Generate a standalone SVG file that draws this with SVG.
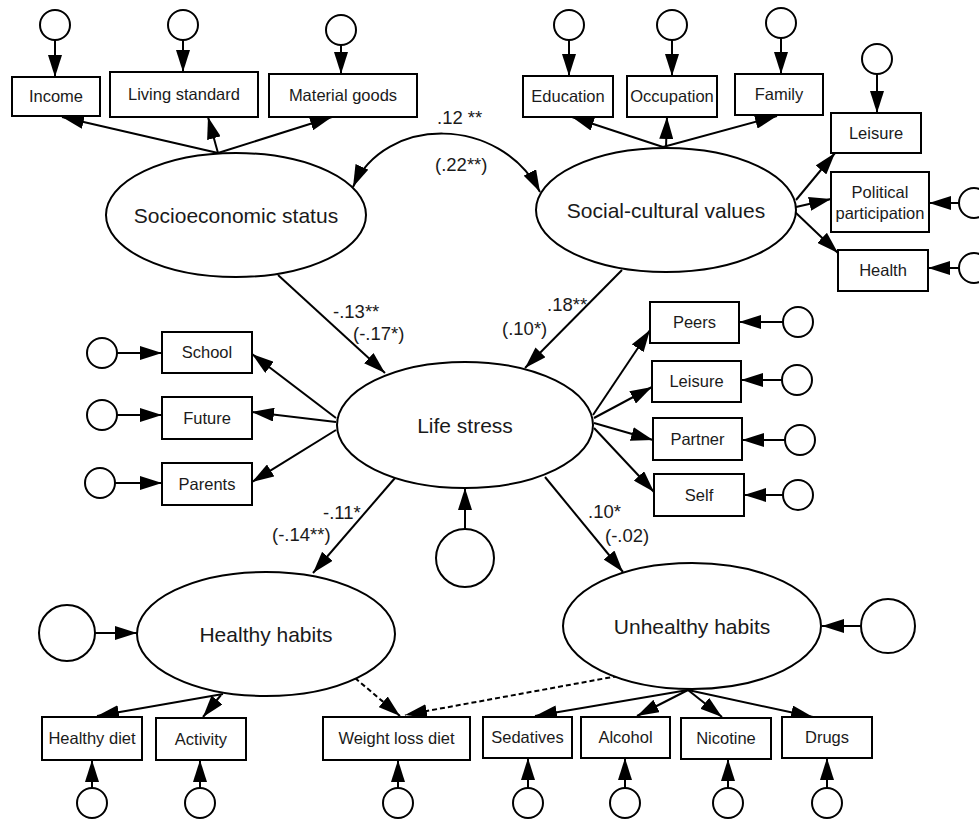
<svg xmlns="http://www.w3.org/2000/svg" width="979" height="820" viewBox="0 0 979 820">
<style>
.box{fill:#fff;stroke:#000;stroke-width:2}
.lat{fill:#fff;stroke:#000;stroke-width:2}
.err{fill:#fff;stroke:#000;stroke-width:2}
.bl{font-family:"Liberation Sans",Arial,sans-serif;font-size:16.5px;fill:#1a1a1a;text-anchor:middle}
.ll{font-family:"Liberation Sans",Arial,sans-serif;font-size:21px;fill:#1a1a1a;text-anchor:middle}
.cl{font-family:"Liberation Sans",Arial,sans-serif;font-size:18.5px;fill:#1a1a1a}
.c{fill:none;stroke:#000;stroke-width:2;marker-end:url(#ah)}
.d{fill:none;stroke:#000;stroke-width:2;stroke-dasharray:5 3;marker-end:url(#ah)}
</style>
<defs>
<marker id="ah" markerUnits="userSpaceOnUse" markerWidth="22" markerHeight="14" refX="22" refY="7" orient="auto-start-reverse" viewBox="0 0 22 14">
<path d="M0,0 L22,7 L0,14 z" fill="#000"/>
</marker>
</defs>
<rect width="979" height="820" fill="#fff"/>

<g id="connectors">
<line class="c" x1="55" y1="40" x2="55" y2="77"/>
<line class="c" x1="183" y1="40" x2="183" y2="72"/>
<line class="c" x1="341" y1="45" x2="341" y2="74"/>
<line class="c" x1="218" y1="153" x2="62" y2="117"/>
<line class="c" x1="218" y1="153" x2="208" y2="117"/>
<line class="c" x1="218" y1="153" x2="332" y2="117"/>
<line class="c" x1="569" y1="40" x2="569" y2="76"/>
<line class="c" x1="672" y1="40" x2="672" y2="76"/>
<line class="c" x1="781" y1="38" x2="781" y2="74"/>
<line class="c" x1="877" y1="74" x2="877" y2="113"/>
<line class="c" x1="959" y1="203" x2="929" y2="203"/>
<line class="c" x1="959" y1="268" x2="928" y2="268"/>
<line class="c" x1="663" y1="147" x2="572" y2="117"/>
<line class="c" x1="666" y1="147" x2="667" y2="117"/>
<line class="c" x1="663" y1="147" x2="777" y2="116"/>
<line class="c" x1="796" y1="200" x2="835" y2="153"/>
<line class="c" x1="796" y1="207" x2="831" y2="199"/>
<line class="c" x1="795" y1="212" x2="838" y2="253"/>
<path d="M353,187 C385,115 500,115 540,192" fill="none" stroke="#000" stroke-width="2" marker-start="url(#ah)" marker-end="url(#ah)"/>
<line class="c" x1="278" y1="275" x2="385" y2="373"/>
<line class="c" x1="622" y1="270" x2="525" y2="368"/>
<line class="c" x1="395" y1="478" x2="313" y2="573"/>
<line class="c" x1="545" y1="477" x2="623" y2="572"/>
<line class="c" x1="465" y1="529" x2="465" y2="488"/>
<line class="c" x1="117" y1="353" x2="162" y2="353"/>
<line class="c" x1="117" y1="415" x2="162" y2="415"/>
<line class="c" x1="115" y1="483" x2="162" y2="483"/>
<line class="c" x1="336" y1="418" x2="252" y2="354"/>
<line class="c" x1="336" y1="422" x2="252" y2="412"/>
<line class="c" x1="336" y1="430" x2="252" y2="482"/>
<line class="c" x1="783" y1="322" x2="739" y2="322"/>
<line class="c" x1="782" y1="380" x2="741" y2="380"/>
<line class="c" x1="785" y1="440" x2="742" y2="440"/>
<line class="c" x1="783" y1="495" x2="744" y2="495"/>
<line class="c" x1="593" y1="415" x2="650" y2="330"/>
<line class="c" x1="594" y1="418" x2="652" y2="387"/>
<line class="c" x1="594" y1="423" x2="653" y2="440"/>
<line class="c" x1="594" y1="428" x2="654" y2="492"/>
<line class="c" x1="95" y1="633" x2="137" y2="633"/>
<line class="c" x1="223" y1="694" x2="97" y2="716"/>
<line class="c" x1="221" y1="695" x2="203" y2="717"/>
<line class="c" x1="92" y1="788" x2="92" y2="760"/>
<line class="c" x1="200" y1="788" x2="200" y2="760"/>
<line class="c" x1="398" y1="788" x2="398" y2="760"/>
<line class="d" x1="355" y1="678" x2="400" y2="716"/>
<line class="d" x1="618" y1="676" x2="405" y2="715"/>
<line class="c" x1="861" y1="626" x2="822" y2="626"/>
<line class="c" x1="688" y1="690" x2="535" y2="716"/>
<line class="c" x1="688" y1="690" x2="637" y2="716"/>
<line class="c" x1="688" y1="690" x2="722" y2="717"/>
<line class="c" x1="688" y1="690" x2="813" y2="717"/>
<line class="c" x1="528" y1="788" x2="528" y2="758"/>
<line class="c" x1="625" y1="788" x2="625" y2="758"/>
<line class="c" x1="728" y1="788" x2="728" y2="759"/>
<line class="c" x1="827" y1="788" x2="827" y2="758"/>
</g>

<g id="labels">
<text class="cl" x="437" y="124">.12 **</text>
<text class="cl" x="435" y="171">(.22**)</text>
<text class="cl" x="333" y="318">-.13**</text>
<text class="cl" x="353" y="340">(-.17*)</text>
<text class="cl" x="547" y="311">.18**</text>
<text class="cl" x="502" y="335">(.10*)</text>
<text class="cl" x="323" y="519">-.11*</text>
<text class="cl" x="272" y="541">(-.14**)</text>
<text class="cl" x="588" y="518">.10*</text>
<text class="cl" x="605" y="542">(-.02)</text>
</g>

<g id="ses"><ellipse class="lat" cx="236" cy="215" rx="130" ry="62"/><text class="ll" x="236" y="223">Socioeconomic status</text></g>
<g id="income"><rect class="box" x="12" y="77" width="88" height="39"/><text class="bl" x="56" y="102">Income</text></g>
<g id="living"><rect class="box" x="110" y="72" width="148" height="45"/><text class="bl" x="184" y="100">Living standard</text></g>
<g id="material"><rect class="box" x="269" y="74" width="148" height="43"/><text class="bl" x="343" y="101">Material goods</text></g>
<g id="e_income"><circle class="err" cx="55" cy="25" r="15"/></g>
<g id="e_living"><circle class="err" cx="183" cy="25" r="15"/></g>
<g id="e_material"><circle class="err" cx="341" cy="30" r="15"/></g>

<g id="scv"><ellipse class="lat" cx="666" cy="210" rx="130" ry="62"/><text class="ll" x="666" y="218">Social-cultural values</text></g>
<g id="education"><rect class="box" x="523" y="76" width="90" height="41"/><text class="bl" x="568" y="102">Education</text></g>
<g id="occupation"><rect class="box" x="627" y="76" width="90" height="41"/><text class="bl" x="672" y="102">Occupation</text></g>
<g id="family"><rect class="box" x="735" y="74" width="88" height="41"/><text class="bl" x="779" y="100">Family</text></g>
<g id="leisure_scv"><rect class="box" x="831" y="113" width="90" height="40"/><text class="bl" x="876" y="139">Leisure</text></g>
<g id="political"><rect class="box" x="831" y="172" width="98" height="60"/><text class="bl" x="880" y="198">Political</text><text class="bl" x="880" y="219">participation</text></g>
<g id="health"><rect class="box" x="838" y="250" width="90" height="41"/><text class="bl" x="883" y="276">Health</text></g>
<g id="e_education"><circle class="err" cx="569" cy="25" r="15"/></g>
<g id="e_occupation"><circle class="err" cx="672" cy="25" r="15"/></g>
<g id="e_family"><circle class="err" cx="781" cy="23" r="15"/></g>
<g id="e_leisure_scv"><circle class="err" cx="877" cy="59" r="15"/></g>
<g id="e_political"><circle class="err" cx="974" cy="203" r="15"/></g>
<g id="e_health"><circle class="err" cx="974" cy="268" r="15"/></g>

<g id="lifestress"><ellipse class="lat" cx="465" cy="425" rx="128" ry="63"/><text class="ll" x="465" y="433">Life stress</text></g>
<g id="d_lifestress"><circle class="err" cx="465" cy="558" r="29"/></g>
<g id="school"><rect class="box" x="162" y="332" width="90" height="41"/><text class="bl" x="207" y="358">School</text></g>
<g id="future"><rect class="box" x="162" y="397" width="90" height="42"/><text class="bl" x="207" y="424">Future</text></g>
<g id="parents"><rect class="box" x="162" y="463" width="90" height="42"/><text class="bl" x="207" y="490">Parents</text></g>
<g id="e_school"><circle class="err" cx="102" cy="353" r="15"/></g>
<g id="e_future"><circle class="err" cx="102" cy="415" r="15"/></g>
<g id="e_parents"><circle class="err" cx="100" cy="483" r="15"/></g>
<g id="peers"><rect class="box" x="650" y="302" width="89" height="41"/><text class="bl" x="694.5" y="328">Peers</text></g>
<g id="leisure_ls"><rect class="box" x="652" y="361" width="89" height="41"/><text class="bl" x="696.5" y="387">Leisure</text></g>
<g id="partner"><rect class="box" x="653" y="418" width="89" height="42"/><text class="bl" x="697.5" y="445">Partner</text></g>
<g id="self"><rect class="box" x="654" y="474" width="90" height="42"/><text class="bl" x="699" y="501">Self</text></g>
<g id="e_peers"><circle class="err" cx="798" cy="322" r="15"/></g>
<g id="e_leisure_ls"><circle class="err" cx="797" cy="380" r="15"/></g>
<g id="e_partner"><circle class="err" cx="800" cy="440" r="15"/></g>
<g id="e_self"><circle class="err" cx="798" cy="495" r="15"/></g>

<g id="healthy"><ellipse class="lat" cx="266" cy="634" rx="129" ry="62"/><text class="ll" x="266" y="642">Healthy habits</text></g>
<g id="d_healthy"><circle class="err" cx="67" cy="633" r="28"/></g>
<g id="healthydiet"><rect class="box" x="42" y="717" width="100" height="43"/><text class="bl" x="92" y="744">Healthy diet</text></g>
<g id="activity"><rect class="box" x="156" y="718" width="90" height="42"/><text class="bl" x="201" y="745">Activity</text></g>
<g id="weightloss"><rect class="box" x="323" y="717" width="147" height="43"/><text class="bl" x="396.5" y="744">Weight loss diet</text></g>
<g id="e_healthydiet"><circle class="err" cx="92" cy="803" r="15"/></g>
<g id="e_activity"><circle class="err" cx="200" cy="803" r="15"/></g>
<g id="e_weightloss"><circle class="err" cx="398" cy="803" r="15"/></g>

<g id="unhealthy"><ellipse class="lat" cx="692" cy="626" rx="129" ry="63"/><text class="ll" x="692" y="634">Unhealthy habits</text></g>
<g id="d_unhealthy"><circle class="err" cx="888" cy="626" r="27"/></g>
<g id="sedatives"><rect class="box" x="483" y="717" width="89" height="41"/><text class="bl" x="527.5" y="743">Sedatives</text></g>
<g id="alcohol"><rect class="box" x="581" y="717" width="89" height="41"/><text class="bl" x="625.5" y="743">Alcohol</text></g>
<g id="nicotine"><rect class="box" x="681" y="718" width="90" height="41"/><text class="bl" x="726" y="744">Nicotine</text></g>
<g id="drugs"><rect class="box" x="782" y="717" width="90" height="41"/><text class="bl" x="827" y="743">Drugs</text></g>
<g id="e_sedatives"><circle class="err" cx="528" cy="803" r="15"/></g>
<g id="e_alcohol"><circle class="err" cx="625" cy="803" r="15"/></g>
<g id="e_nicotine"><circle class="err" cx="728" cy="803" r="15"/></g>
<g id="e_drugs"><circle class="err" cx="827" cy="803" r="15"/></g>
</svg>
